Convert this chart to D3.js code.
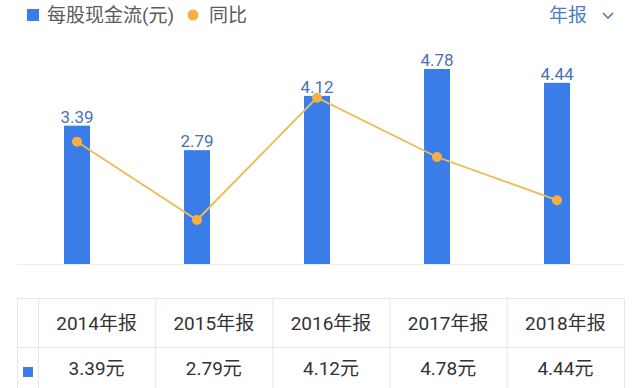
<!DOCTYPE html>
<html><head><meta charset="utf-8">
<script src="https://cdn.jsdelivr.net/npm/d3@7"></script>
<style>
html,body{margin:0;padding:0;background:#fff;}
svg{display:block;font-family:Roboto,"Noto Sans CJK SC",sans-serif;}
</style></head><body>
<svg id="c" width="642" height="388"></svg>
<script>
const categories = ["2014年报","2015年报","2016年报","2017年报","2018年报"];
const cashFlow = [3.39, 2.79, 4.12, 4.78, 4.44];
const yoy = [24.2, -17.7, 47.7, 16.0, -7.1];
const valueLabels = ["3.39","2.79","4.12","4.78","4.44"];
const tableValues = ["3.39元","2.79元","4.12元","4.78元","4.44元"];
const legendLabels = ["每股现金流(元)","同比"];

const BLUE = "#3a7ce8", ORANGE = "#f5b041", LINE = "#ebbd52";
const svg = d3.select("#c");

const x = d3.scalePoint().domain(categories).range([77, 557]);
const y = d3.scaleLinear().domain([0, 5]).range([264, 60]);
const y2 = d3.scaleLinear().domain([-20, 50]).range([224.3, 93.4]);
const bw = 26;

// legend
const lg = svg.append("g");
lg.append("rect").attr("x", 27).attr("y", 9).attr("width", 12).attr("height", 12).attr("fill", BLUE);
lg.append("text").attr("x", 47).attr("y", 22).attr("font-size", 19).attr("fill", "#5a5a5a").text(legendLabels[0]);
lg.append("circle").attr("cx", 193).attr("cy", 15).attr("r", 5.5).attr("fill", ORANGE);
lg.append("text").attr("x", 209).attr("y", 22).attr("font-size", 19).attr("fill", "#5a5a5a").text(legendLabels[1]);
svg.append("text").attr("x", 549).attr("y", 22).attr("font-size", 19).attr("fill", "#4a7bd0").text("年报");
svg.append("path").attr("d", "M603,13 L608,18 L613,13").attr("fill", "none").attr("stroke", "#4a7bd0").attr("stroke-width", 1.6);

// baseline
svg.append("line").attr("x1", 17).attr("x2", 624).attr("y1", y(0) + 0.5).attr("y2", y(0) + 0.5).attr("stroke", "#ececec");

// bars
svg.append("g").selectAll("rect").data(cashFlow).join("rect")
  .attr("x", (d, i) => x(categories[i]) - bw / 2)
  .attr("y", d => y(d))
  .attr("width", bw)
  .attr("height", d => y(0) - y(d))
  .attr("fill", BLUE);

svg.append("g").selectAll("text").data(cashFlow).join("text")
  .attr("x", (d, i) => x(categories[i]))
  .attr("y", d => y(d) - 3)
  .attr("text-anchor", "middle")
  .attr("font-size", 17)
  .attr("fill", "#4a72b5")
  .text((d, i) => valueLabels[i]);

// line
const line = d3.line().x((d, i) => x(categories[i])).y(d => y2(d));
svg.append("path").datum(yoy).attr("d", line).attr("fill", "none").attr("stroke", LINE).attr("stroke-width", 1.8);
svg.append("g").selectAll("circle").data(yoy).join("circle")
  .attr("cx", (d, i) => x(categories[i]))
  .attr("cy", d => y2(d))
  .attr("r", 5)
  .attr("fill", ORANGE);

// table
const colX = d3.scaleBand().domain(categories).range([38, 624]);
const rowTop = 298, rowH = 49;
const tg = svg.append("g");
const border = "#e6e6e6";
[rowTop, rowTop + rowH, rowTop + 2 * rowH].forEach(yy =>
  tg.append("line").attr("x1", 17).attr("x2", 624).attr("y1", yy + 0.5).attr("y2", yy + 0.5).attr("stroke", border));
const vx = [17, 38].concat(categories.map(c => colX(c) + colX.bandwidth()));
vx.forEach(xx =>
  tg.append("line").attr("x1", xx + 0.5).attr("x2", xx + 0.5).attr("y1", rowTop).attr("y2", rowTop + 2 * rowH).attr("stroke", border));

tg.selectAll("text.h").data(categories).join("text").attr("class", "h")
  .attr("x", d => colX(d) + colX.bandwidth() / 2)
  .attr("y", rowTop + rowH / 2 + 7)
  .attr("text-anchor", "middle").attr("font-size", 19).attr("fill", "#333")
  .text(d => d);
tg.selectAll("text.v").data(tableValues).join("text").attr("class", "v")
  .attr("x", (d, i) => colX(categories[i]) + colX.bandwidth() / 2)
  .attr("y", rowTop + rowH + rowH / 2 + 3)
  .attr("text-anchor", "middle").attr("font-size", 19).attr("fill", "#333")
  .text(d => d);
tg.append("rect").attr("x", 23).attr("y", 367).attr("width", 10).attr("height", 10).attr("fill", BLUE);
</script>
</body></html>
